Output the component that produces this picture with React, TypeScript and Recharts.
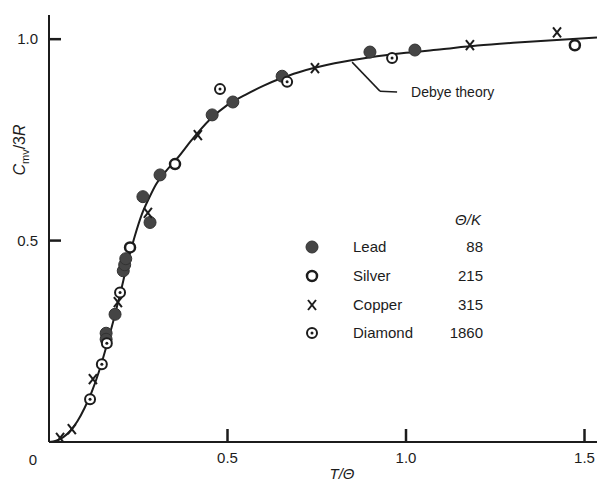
import React from 'react';
import { ComposedChart, Line, Scatter, XAxis, YAxis, Label, ReferenceLine, ReferenceDot } from 'recharts';

// Debye theory curve
const debyeT = [0, 0.02, 0.04, 0.06, 0.08, 0.1, 0.12, 0.14, 0.16, 0.18, 0.2, 0.22, 0.24, 0.26, 0.28, 0.3, 0.33, 0.36, 0.4, 0.45, 0.5, 0.55, 0.6, 0.65, 0.7, 0.8, 0.9, 1.0, 1.1, 1.2, 1.3, 1.4, 1.535];
const debyeC = [0, 0.003, 0.012, 0.028, 0.052, 0.085, 0.125, 0.175, 0.235, 0.3, 0.37, 0.445, 0.51, 0.565, 0.605, 0.64, 0.675, 0.705, 0.75, 0.8, 0.837, 0.862, 0.884, 0.903, 0.918, 0.94, 0.955, 0.966, 0.975, 0.984, 0.991, 0.997, 1.004];

// measured points
const leadT = [0.16, 0.16, 0.185, 0.208, 0.212, 0.215, 0.263, 0.283, 0.311, 0.457, 0.515, 0.653, 0.899, 1.025];
const leadC = [0.27, 0.255, 0.317, 0.425, 0.44, 0.455, 0.609, 0.545, 0.663, 0.812, 0.844, 0.908, 0.968, 0.973];
const silverT = [0.227, 0.353, 1.473];
const silverC = [0.483, 0.69, 0.985];
const copperT = [0.031, 0.064, 0.123, 0.193, 0.277, 0.417, 0.745, 1.179, 1.423];
const copperC = [0.01, 0.032, 0.156, 0.347, 0.569, 0.762, 0.928, 0.985, 1.017];
const diamondT = [0.115, 0.148, 0.162, 0.199, 0.479, 0.667, 0.961];
const diamondC = [0.106, 0.193, 0.245, 0.371, 0.876, 0.894, 0.953];

const materials = ['Lead', 'Silver', 'Copper', 'Diamond'];
const thetaK = ['88', '215', '315', '1860'];

const xTicks = [0, 0.5, 1.0, 1.5];
const xTickLabels = ['0', '0.5', '1.0', '1.5'];
const yTicks = [0.5, 1.0];
const yTickLabels = ['0.5', '1.0'];

// pointer from the label to the curve
const pointerT = [0.849, 0.927, 0.975];
const pointerC = [0.943, 0.871, 0.869];

const zip = (t: number[], c: number[]) => t.map((v, i) => ({ t: v, c: c[i] }));
const debye = zip(debyeT, debyeC);
const lead = zip(leadT, leadC);
const silver = zip(silverT, silverC);
const copper = zip(copperT, copperC);
const diamond = zip(diamondT, diamondC);

const INK = '#1c1c1c';
const FONT = '"Liberation Sans", Arial, sans-serif';

const Marker = ({ kind, cx, cy }: { kind: string; cx: number; cy: number }) => {
  if (kind === 'Lead') return <circle cx={cx} cy={cy} r={6} fill="#454545" stroke="#333" strokeWidth={1} />;
  if (kind === 'Silver') return <circle cx={cx} cy={cy} r={5} fill="#fff" stroke={INK} strokeWidth={2.5} />;
  if (kind === 'Copper')
    return (
      <g stroke={INK} strokeWidth={2}>
        <line x1={cx - 4} y1={cy - 5} x2={cx + 4} y2={cy + 5} />
        <line x1={cx + 4} y1={cy - 5} x2={cx - 4} y2={cy + 5} />
      </g>
    );
  return (
    <g>
      <circle cx={cx} cy={cy} r={5} fill="#fff" stroke={INK} strokeWidth={2} />
      <circle cx={cx} cy={cy} r={1.5} fill={INK} />
    </g>
  );
};

const XTick = (props: any) => {
  const { x, y, payload } = props;
  const i = xTicks.indexOf(payload.value);
  if (payload.value === 0) {
    return <text x={x - 16} y={y + 23} textAnchor="middle" fontSize={15} fill={INK} fontFamily={FONT}>{xTickLabels[i]}</text>;
  }
  return (
    <g>
      <path d={`M${x},${y}V${y - 13}`} stroke={INK} strokeWidth={2.5} />
      <text x={x} y={y + 21} textAnchor="middle" fontSize={15} fill={INK} fontFamily={FONT}>{xTickLabels[i]}</text>
    </g>
  );
};

const YTick = (props: any) => {
  const { x, y, payload } = props;
  const i = yTicks.indexOf(payload.value);
  return (
    <g>
      <path d={`M${x},${y}H${x + 12}`} stroke={INK} strokeWidth={2.5} />
      <text x={x - 11} y={y + 5} textAnchor="end" fontSize={15} fill={INK} fontFamily={FONT}>{yTickLabels[i]}</text>
    </g>
  );
};

const LegendBox = () => {
  const rows = [42, 71, 100, 128];
  return (
    <svg width={210} height={140} style={{ position: 'absolute', left: 290, top: 205 }}>
      <text x={178} y={20} textAnchor="middle" fontSize={15} fontStyle="italic" fill={INK} fontFamily={FONT}>Θ/K</text>
      {materials.map((m, i) => (
        <g key={m}>
          <Marker kind={m} cx={22} cy={rows[i]} />
          <text x={63} y={rows[i] + 5} fontSize={15} fill={INK} fontFamily={FONT}>{m}</text>
          <text x={193} y={rows[i] + 5} textAnchor="end" fontSize={15} fill={INK} fontFamily={FONT}>{thetaK[i]}</text>
        </g>
      ))}
    </svg>
  );
};

const series = [
  { name: 'Lead', data: lead },
  { name: 'Silver', data: silver },
  { name: 'Copper', data: copper },
  { name: 'Diamond', data: diamond },
];

export default function App() {
  return (
    <div style={{ position: 'absolute', left: 0, top: 0, width: 597, height: 492, background: '#fff', fontFamily: FONT }}>
      <ComposedChart width={597} height={492} margin={{ top: 15, right: 0, bottom: 20, left: 9 }}>
        <XAxis
          type="number"
          dataKey="t"
          domain={[0, 1.535]}
          ticks={xTicks}
          allowDataOverflow
          height={30}
          tickSize={0}
          tickMargin={0}
          tickLine={false}
          tick={(p: any) => <XTick {...p} />}
          axisLine={{ stroke: INK, strokeWidth: 2 }}
        >
          <Label
            content={(p: any) => (
              <text x={p.viewBox.x + 293} y={p.viewBox.y + 37} textAnchor="middle" fontSize={15} fontStyle="italic" fill={INK} fontFamily={FONT}>
                T/Θ
              </text>
            )}
          />
        </XAxis>
        <YAxis
          type="number"
          dataKey="c"
          domain={[0, 1.06]}
          ticks={yTicks}
          allowDataOverflow
          width={40}
          tickSize={0}
          tickMargin={0}
          tickLine={false}
          tick={(p: any) => <YTick {...p} />}
          axisLine={{ stroke: INK, strokeWidth: 2 }}
        >
          <Label
            content={(p: any) => (
              <text
                transform={`translate(${p.viewBox.x + 16}, ${p.viewBox.y + 135}) rotate(-90)`}
                textAnchor="middle"
                fontSize={16}
                fill={INK}
                fontFamily={FONT}
              >
                <tspan fontStyle="italic">C</tspan>
                <tspan fontSize={11} dy={4}>mv</tspan>
                <tspan dy={-4}>/3</tspan>
                <tspan fontStyle="italic">R</tspan>
              </text>
            )}
          />
        </YAxis>
        <Line data={debye} dataKey="c" type="monotone" dot={false} stroke={INK} strokeWidth={2} isAnimationActive={false} />
        <ReferenceLine
          segment={[{ x: pointerT[0], y: pointerC[0] }, { x: pointerT[1], y: pointerC[1] }]}
          stroke={INK}
          strokeWidth={1.5}
        />
        <ReferenceLine
          segment={[{ x: pointerT[1], y: pointerC[1] }, { x: pointerT[2], y: pointerC[2] }]}
          stroke={INK}
          strokeWidth={1.5}
        />
        <ReferenceDot
          x={pointerT[2]}
          y={pointerC[2]}
          r={1}
          fill="none"
          stroke="none"
          label={{
            content: (p: any) => (
              <text x={p.viewBox.x + 15} y={p.viewBox.y + 6} fontSize={14} fill={INK} fontFamily={FONT}>
                Debye theory
              </text>
            ),
          }}
        />
        {series.map((s) => (
          <Scatter
            key={s.name}
            name={s.name}
            data={s.data}
            dataKey="c"
            isAnimationActive={false}
            shape={(p: any) => <Marker kind={s.name} cx={p.cx} cy={p.cy} />}
          />
        ))}
      </ComposedChart>
      <LegendBox />
    </div>
  );
}
